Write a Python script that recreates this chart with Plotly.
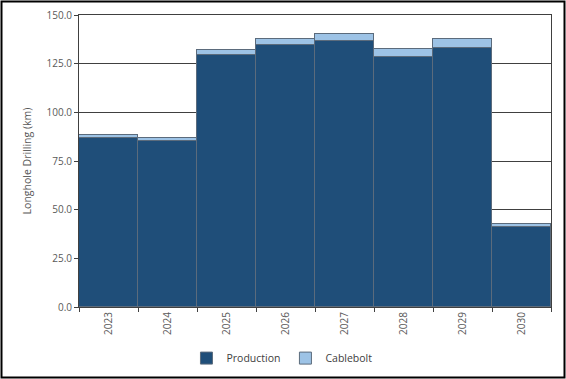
import plotly.graph_objects as go

years = ["2023", "2024", "2025", "2026", "2027", "2028", "2029", "2030"]
production = [87.0, 85.3, 129.3, 134.6, 136.8, 128.6, 132.9, 41.2]
cablebolt = [1.5, 1.7, 2.9, 3.2, 3.6, 3.8, 4.6, 1.4]
y_ticks = [0, 25, 50, 75, 100, 125, 150]
y_tick_labels = ["0.0", "25.0", "50.0", "75.0", "100.0", "125.0", "150.0"]

W, H = 566, 379
L, R, T, B = 79, 15, 15, 72
pw, ph = W - L - R, H - T - B

fig = go.Figure()
fig.add_trace(go.Bar(x=years, y=production, name="Production",
                     marker=dict(color="#1F4E79", line=dict(color="#5B6B7C", width=1))))
fig.add_trace(go.Bar(x=years, y=cablebolt, name="Cablebolt",
                     marker=dict(color="#9DC3E6", line=dict(color="#5B6B7C", width=1))))

font = dict(family="Open Sans, Noto Sans, sans-serif", size=10, color="#595959")
fig.update_layout(
    width=W, height=H,
    margin=dict(l=L, r=R, t=T, b=B, autoexpand=False),
    barmode="stack", bargap=0,
    paper_bgcolor="white", plot_bgcolor="white",
    font=font,
    showlegend=True,
    legend=dict(orientation="h", x=0.43, xanchor="center", y=-0.175, yanchor="middle",
                font=dict(family="Open Sans, Noto Sans, sans-serif", size=10.5, color="#404040"),
                itemwidth=30, traceorder="normal"),
    xaxis=dict(type="category", tickangle=-90, ticks="outside", tickson="boundaries",
               ticklen=4, tickcolor="#404040", showline=True, linecolor="#404040",
               linewidth=1, mirror=True, showgrid=False, tickfont=font, automargin=False),
    yaxis=dict(range=[0, 150], tickvals=y_ticks, ticktext=y_tick_labels,
               ticks="outside", ticklen=4, tickcolor="#404040", showline=True,
               linecolor="#404040", linewidth=1, mirror=True,
               showgrid=True, gridcolor="#404040", gridwidth=1, automargin=False,
               title=dict(text="Longhole Drilling (km)", standoff=12,
                          font=dict(family="Open Sans, Noto Sans, sans-serif", size=10.5, color="#595959")),
               tickfont=font),
)
fig.add_shape(type="rect", xref="paper", yref="paper",
              x0=-(L - 1.5) / pw, x1=1 + (R - 1.5) / pw,
              y0=-(B - 1.5) / ph, y1=1 + (T - 1.5) / ph,
              line=dict(color="#000000", width=2), layer="above")
fig.write_html("out.html", config={"displayModeBar": False},
               post_script="document.body.style.margin='0';document.body.style.overflow='hidden';")
